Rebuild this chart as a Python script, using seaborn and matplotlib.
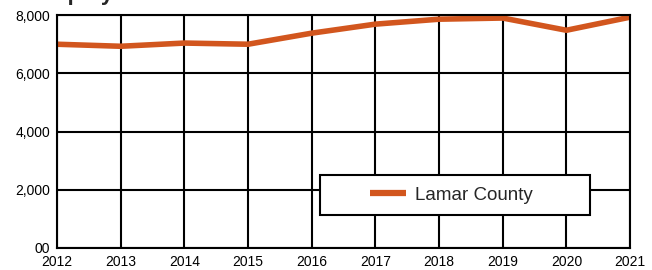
import matplotlib
matplotlib.use("Agg")
import matplotlib.pyplot as plt
from matplotlib.patches import Rectangle
import seaborn as sns
import pandas as pd

years = [2012, 2013, 2014, 2015, 2016, 2017, 2018, 2019, 2020, 2021]
employment = [7000, 6930, 7040, 7000, 7380, 7690, 7860, 7900, 7480, 7930]
yticks = [0, 2000, 4000, 6000, 8000]
ytick_labels = ["00", "2,000", "4,000", "6,000", "8,000"]

df = pd.DataFrame({"year": years, "jobs": employment, "area": "Lamar County"})

sns.set_style("white")
plt.rcParams["font.family"] = ["Liberation Sans", "DejaVu Sans"]

fig = plt.figure(figsize=(6.52, 2.70), dpi=100)
ax = fig.add_axes([0.0874, 0.0815, 0.879, 0.8625])

sns.lineplot(data=df, x="year", y="jobs", hue="area", palette=["#d2561e"],
             linewidth=4, ax=ax, solid_capstyle="butt", solid_joinstyle="round")

ax.set_xlim(2012, 2021)
ax.set_ylim(0, 8000)
ax.set_xticks(years)
ax.set_xticklabels([str(y) for y in years])
ax.set_yticks(yticks)
ax.set_yticklabels(ytick_labels)
ax.set_xlabel("")
ax.set_ylabel("")
ax.grid(True, color="black", linewidth=1.5)
ax.set_axisbelow(True)
for s in ax.spines.values():
    s.set_color("black")
    s.set_linewidth(1.5)
ax.tick_params(axis="both", direction="out", length=4, width=1.5, color="black",
               labelsize=10, labelcolor="black", pad=1)

# legend box
box = Rectangle((0.459, 0.142), 0.471, 0.171, transform=ax.transAxes,
                facecolor="white", edgecolor="black", linewidth=1.5, zorder=4)
ax.add_patch(box)
leg = ax.legend(loc="center left", bbox_to_anchor=(0.546, 0.227),
                fontsize=13.5, handlelength=1.9, handletextpad=0.5,
                borderpad=0, borderaxespad=0, frameon=False)
leg.set_zorder(5)
for h in leg.get_lines():
    h.set_linewidth(4.5)

fig.text(0.05, 0.98, "Employment Trends", fontsize=16, fontweight="bold",
         va="bottom", ha="left")

fig.savefig("out.png", dpi=100)
